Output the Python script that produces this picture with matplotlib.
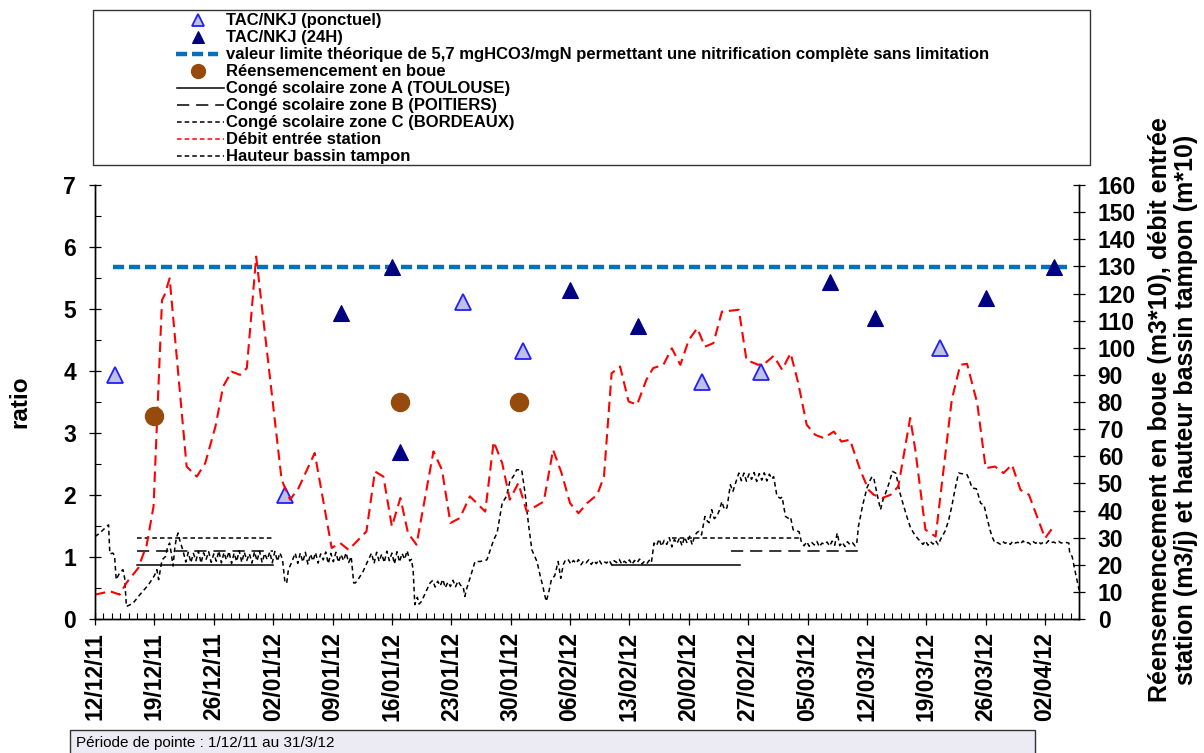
import numpy as np
import matplotlib
matplotlib.use('Agg')
import matplotlib.pyplot as plt
from matplotlib.lines import Line2D
from matplotlib.patches import Rectangle

plt.rcParams['font.family'] = ['Liberation Sans', 'DejaVu Sans']

W, H = 1204, 753

# ---------------- data (x = days since 12/12/2011) ----------------
date_ticks = [0, 7, 14, 21, 28, 35, 42, 49, 56, 63, 70, 77, 84, 91, 98, 105, 112]
date_labels = ['12/12/11', '19/12/11', '26/12/11', '02/01/12', '09/01/12', '16/01/12',
               '23/01/12', '30/01/12', '06/02/12', '13/02/12', '20/02/12', '27/02/12',
               '05/03/12', '12/03/12', '19/03/12', '26/03/12', '02/04/12']

ponctuel_days = [2.4, 22.4, 43.4, 50.4, 71.5, 78.5, 99.6]
ponctuel_vals = [3.93, 2.00, 5.12, 4.32, 3.82, 3.99, 4.37]

h24_days = [29, 35, 36, 56, 64, 86.6, 92, 105, 113]
h24_vals = [4.93, 5.67, 2.70, 5.31, 4.73, 5.44, 4.86, 5.18, 5.68]

limit_days = [2.1, 114.6]
limit_vals = [5.68, 5.68]

reens_days = [6.9, 36, 50]
reens_vals = [75, 80, 80]

conge_A_days = [[4.9, 21.0], [61, 76]]
conge_A_val = 20
conge_B_days = [[4.9, 21.0], [75, 90.2]]
conge_B_val = 25
conge_C_days = [[4.9, 21.0], [68, 83.1]]
conge_C_val = 30

debit_days = [0, 1.8, 2.9, 3.7, 5.1, 6.1, 6.9, 7.9, 8.2, 8.8, 10.8, 12, 13, 14.2, 15.1, 16.1,
              17.1, 17.9, 19.0, 22, 23, 24, 25.9, 27.9, 28.9, 29.9, 32, 33, 34, 35, 36, 36.9,
              37.9, 39.9, 40.9, 41.9, 43, 44.2, 46, 47, 48, 48.9, 49.9, 50.9, 52.9, 54, 55,
              56, 57, 58, 59.2, 60, 60.9, 61.9, 62.9, 63.9, 65, 65.8, 67, 68, 69, 70, 71,
              71.9, 72.9, 73.9, 75.9, 76.8, 78.2, 79, 80, 81, 82, 82.9, 83.9, 84.9, 85.9,
              87.1, 88, 89, 90.2, 91.2, 91.8, 92.8, 93.8, 94.7, 96.1, 96.7, 97.9, 99.1, 101,
              102, 102.8, 104, 105, 106.1, 107.1, 108.1, 109.1, 110.1, 112, 113]
debit_vals = [9, 10.2, 9, 13.3, 18.8, 27.4, 41.5, 117.6, 119.5, 125.6, 56.2, 52.5, 57.5, 71,
              85.7, 91.2, 90, 92.5, 133.6, 51.3, 44, 48.3, 61.2, 26.2, 28, 25.5, 32.3, 54.4,
              52.5, 34.1, 44.6, 31.7, 27.4, 61.8, 55, 35.4, 37.2, 45.2, 39.6, 65.4, 57.5, 44,
              50.1, 39.6, 43.3, 62.4, 53.8, 42.7, 39, 42.7, 45.8, 52.5, 90.6, 93.1, 80.2, 79,
              88.2, 92.5, 93.7, 99.8, 93.7, 102.9, 107.2, 100.4, 101.7, 113.3, 114, 95.5,
              93.7, 94.3, 97, 91.9, 98, 87, 71.6, 67.9, 66.7, 69.1, 65.4, 66.1, 55, 47.6,
              45.8, 44.6, 45.8, 48.9, 74.1, 62.4, 32.9, 30.4, 80.8, 93.7, 94.1, 79.6, 55.6,
              56.2, 53.8, 56.9, 47.6, 45.8, 29.8, 34.1]

# Hauteur bassin tampon: shape points (day, value)
hauteur_points = [
    (0, 30.4), (0.5, 31.5), (1.0, 33), (1.6, 34.7), (1.75, 24), (2.1, 24.3), (2.3, 23.5),
    (2.5, 14.5), (2.9, 17), (3.3, 18.2), (3.5, 15), (3.7, 4.6), (4.1, 5.2), (4.5, 5.9),
    (5.3, 9), (6.3, 12.6), (7.0, 16), (7.3, 18.2), (7.5, 14.5), (7.9, 21.8), (8.3, 23),
    (8.6, 27), (8.8, 28), (9.0, 24), (9.2, 19.5), (9.4, 26), (9.6, 30), (9.8, 31.7),
    (10.0, 29), (10.2, 27), (10.4, 24.9),
    (22.4, 13.3), (22.6, 13.3), (22.8, 18.2), (23.2, 21), (23.6, 24.3),
    (30.2, 23), (30.5, 13.3), (30.7, 13.3), (31.1, 15), (31.6, 17.5), (32.1, 21), (32.6, 24.3),
    (37.3, 22), (37.5, 18.2), (37.7, 5.3), (38.0, 8), (38.2, 5.5), (38.5, 6.5), (39.0, 10),
    (39.5, 13.3),
    (43.4, 12), (43.6, 8.3), (43.8, 11), (44.3, 16), (44.8, 21.2), (45.4, 21.2), (46.2, 21.8),
    (47.0, 29.2), (47.4, 31.7), (48.0, 42.7), (48.5, 45.2), (48.9, 50.7), (49.4, 53),
    (49.7, 55), (50.3, 55), (50.7, 46.4), (51.1, 35), (51.5, 25.5), (52.1, 21.2),
    (52.5, 15.7), (52.8, 12), (53.0, 9), (53.2, 6.5), (53.5, 10), (53.8, 14.5), (54.2, 16),
    (54.6, 21.2), (54.8, 17), (54.9, 15), (55.2, 20), (55.5, 22), (55.8, 21.8),
    (65.6, 21), (65.9, 28),
    (71.0, 32), (71.2, 32.3), (71.5, 31), (71.9, 37.8), (72.2, 36), (72.4, 35.5), (72.7, 40.3),
    (73.0, 37), (73.3, 37.8), (73.6, 40), (73.9, 43.3), (74.2, 40.3), (74.5, 41), (74.9, 49.5),
    (75.2, 47), (75.5, 50), (75.9, 53.8),
    (80.0, 52.5), (80.4, 45.2), (80.8, 44.5), (81.0, 45), (81.4, 37.8), (81.8, 37), (82.0, 37.5),
    (82.3, 32.9), (82.7, 32.5), (83.0, 32.2), (83.3, 28),
    (89.8, 28), (90.0, 34.1), (90.5, 42), (91.0, 48.3), (91.4, 51.3), (91.6, 52.5), (91.8, 52),
    (92.2, 46), (92.6, 40.3), (92.9, 44), (93.2, 46.4), (93.6, 50), (94.0, 54.4), (94.4, 53.8),
    (94.6, 51), (94.9, 46.4), (95.3, 42), (95.7, 37.8), (96.1, 34), (96.5, 31.7), (96.9, 30),
    (97.3, 28.6),
    (99.7, 29.5), (100.2, 32.3), (100.6, 36), (101.0, 41.5), (101.4, 48), (101.8, 53.8),
    (102.3, 53.5), (102.8, 53.2), (103.1, 51), (103.4, 48.3), (103.9, 48), (104.1, 46),
    (104.4, 42.7), (104.8, 42), (105.1, 38), (105.5, 32.9), (105.8, 30), (106.1, 28),
    (114.8, 28), (114.9, 24.3), (115.2, 23), (115.5, 18.2), (116.0, 10.8),
]
# Hauteur bassin tampon: noisy plateaus (start day, step, values)
hauteur_plateaus = [
    (10.7, 0.3, [21.0, 24.6, 20.8, 24.2, 21.5, 25.0, 20.6, 24.4, 22.0, 24.8, 20.9, 24.0, 21.3,
                 25.1, 20.7, 24.5, 21.8, 24.9, 20.5, 24.3, 21.2, 25.2, 20.9, 24.6, 21.6, 24.1,
                 20.6, 24.8, 21.4, 25.0, 20.8, 24.2, 21.9, 24.7, 20.7, 24.9, 21.3, 24.4, 22.0]),
    (23.9, 0.3, [20.5, 24.3, 21.0, 24.6, 20.2, 23.9, 21.4, 24.5, 20.6, 24.0, 21.8, 24.7, 20.4,
                 24.2, 21.1, 24.6, 20.9, 23.8, 21.5, 24.4, 20.8]),
    (32.9, 0.3, [20.5, 24.6, 21.2, 24.0, 20.8, 25.0, 21.5, 24.3, 20.3, 24.8, 21.0, 24.2, 22.0,
                 25.2, 21.4]),
    (39.8, 0.3, [14.2, 11.8, 13.9, 12.2, 14.6, 11.5, 13.6, 12.0, 14.3, 11.9, 14.0, 12.4]),
    (56.1, 0.3, [20.2, 21.6, 20.5, 21.9, 20.0, 21.4, 20.7, 21.8, 20.1, 21.5, 20.4, 21.9, 20.3,
                 21.2, 20.6, 21.7, 20.0, 21.5, 20.8, 22.0, 20.2, 21.3, 20.5, 21.8, 20.1, 21.6,
                 20.7, 22.1, 20.3, 21.4, 20.6, 21.9]),
    (66.2, 0.3, [27.0, 29.5, 26.8, 29.0, 27.5, 30.0, 26.6, 29.3, 27.8, 29.8, 27.0, 30.2, 28.0,
                 30.5, 27.4, 30.8]),
    (76.2, 0.3, [51.0, 53.8, 50.8, 53.5, 51.5, 54.0, 50.7, 53.6, 51.2, 53.9, 50.9, 53.4, 51.6]),
    (83.6, 0.3, [27.0, 28.5, 26.8, 28.2, 27.3, 28.6, 26.6, 28.0, 27.5, 28.4, 26.9, 28.7, 27.2,
                 31.7, 27.0, 28.3, 26.7, 28.5, 27.4, 28.1, 26.9]),
    (97.6, 0.3, [27.5, 28.8, 27.2, 28.5, 27.6, 28.9, 27.4]),
    (106.4, 0.3, [28.2, 27.6, 28.6, 27.9, 28.4, 27.5, 28.7, 28.0, 28.3, 27.6, 28.8, 27.8, 28.2,
                  27.5, 28.5, 27.9, 28.6, 27.7, 28.3, 27.8, 28.9, 28.1, 28.4, 27.9, 28.6, 28.0,
                  28.3, 28.2]),
]

legend_labels = ['TAC/NKJ (ponctuel)', 'TAC/NKJ (24H)',
                 'valeur limite théorique de 5,7 mgHCO3/mgN permettant une nitrification complète sans limitation',
                 'Réensemencement en boue', 'Congé scolaire zone A (TOULOUSE)',
                 'Congé scolaire zone B (POITIERS)', 'Congé scolaire zone C (BORDEAUX)',
                 'Débit entrée station', 'Hauteur bassin tampon']

# ---------------- build hauteur series ----------------
pts = list(hauteur_points)
for start, step, vals in hauteur_plateaus:
    for i, v in enumerate(vals):
        pts.append((start + i * step, v))
pts.sort(key=lambda p: p[0])
hb_days = [p[0] for p in pts]
hb_vals = [p[1] for p in pts]

# ---------------- styles ----------------
C_RED = '#FF0000'
C_BLUE = '#0070C0'
C_NAVY = '#000080'
C_BROWN = '#964B0C'
C_LAV = '#C0C0E6'
C_PBLUE = '#2020FF'

sty_ponct = dict(linestyle='none', marker='^', markersize=11, markerfacecolor=C_LAV,
                 markeredgecolor=C_PBLUE, markeredgewidth=1.3)
sty_24h = dict(linestyle='none', marker='^', markersize=12, markerfacecolor=C_NAVY,
               markeredgecolor=C_NAVY, markeredgewidth=0.8)
sty_limit = dict(color=C_BLUE, linewidth=3.2, dashes=(2.5, 1.1), dash_capstyle='butt')
sty_reens = dict(linestyle='none', marker='o', markersize=13, markerfacecolor=C_BROWN,
                 markeredgecolor=C_BROWN)
sty_A = dict(color='black', linewidth=1.1, linestyle='-')
sty_B = dict(color='black', linewidth=1.1, dashes=(8, 4.5))
sty_C = dict(color='black', linewidth=1.1, dashes=(3, 2))
sty_red = dict(color=C_RED, linewidth=1.5, dashes=(5, 2.8))
sty_black = dict(color='black', linewidth=1.1, dashes=(3, 2.2))

# ---------------- figure ----------------
fig = plt.figure(figsize=(W / 100, H / 100), dpi=100)
L, R, T, B = 95, 1079, 185, 619
ax = fig.add_axes([L / W, 1 - B / H, (R - L) / W, (B - T) / H])
ax2 = ax.twinx()

# left axis: ratios
ax.plot(limit_days, limit_vals, **sty_limit, zorder=3)
ax.plot(ponctuel_days, ponctuel_vals, **sty_ponct, zorder=4)
ax.plot(h24_days, h24_vals, **sty_24h, zorder=4)

# right axis
for seg in conge_A_days:
    ax2.plot(seg, [conge_A_val, conge_A_val], **sty_A)
for seg in conge_B_days:
    ax2.plot(seg, [conge_B_val, conge_B_val], **sty_B)
for seg in conge_C_days:
    ax2.plot(seg, [conge_C_val, conge_C_val], **sty_C)
ax2.plot(hb_days, hb_vals, **sty_black)
ax2.plot(debit_days, debit_vals, **sty_red)
ax2.plot(reens_days, reens_vals, **sty_reens, zorder=5)

ax.set_xlim(0, 116)
ax.set_ylim(0, 7)
ax2.set_ylim(0, 160)

for a in (ax, ax2):
    a.spines['top'].set_visible(False)
    for s in a.spines.values():
        s.set_linewidth(1.0)

ax.set_xticks(date_ticks)
ax.set_xticklabels(date_labels, rotation=90, fontsize=16.5, fontweight='bold')
ax.set_xticks(np.arange(0, 117, 1), minor=True)
ax.set_yticks(range(0, 8))
ax.set_yticklabels([str(v) for v in range(0, 8)], fontsize=16.5, fontweight='bold')
ax.set_yticks(np.arange(0.5, 7, 1), minor=True)
ax.tick_params(axis='x', which='major', direction='inout', length=9, width=0.9, pad=5)
ax.tick_params(axis='x', which='minor', direction='in', length=4.5, width=0.8)
ax.tick_params(axis='y', which='major', direction='inout', length=9, width=0.9, pad=9)
ax.tick_params(axis='y', which='minor', direction='in', length=4, width=0.8)

ax2.set_yticks(range(0, 161, 10))
ax2.set_yticklabels([str(v) for v in range(0, 161, 10)], fontsize=16.5, fontweight='bold')
ax2.tick_params(axis='y', which='major', direction='inout', length=9, width=0.9, pad=9)

# axis titles
fig.text(20 / W, 1 - 402 / H, 'ratio', rotation=90, ha='center', va='center',
         fontsize=17.5, fontweight='bold')
fig.text(1173 / W, 1 - 410 / H,
         'Réensemencement en boue (m3*10), débit entrée\nstation (m3/j) et hauteur bassin tampon (m*10)',
         rotation=90, ha='center', va='center', multialignment='center',
         fontsize=18, fontweight='bold', linespacing=1.12)

# ---------------- legend (drawn in figure pixels) ----------------
def fx(x):
    return x / W

def fy(y):
    return 1 - y / H

fig.add_artist(Rectangle((fx(93), fy(165)), (1090 - 93) / W, (165 - 10) / H,
                         transform=fig.transFigure, facecolor='white', edgecolor='#333333',
                         linewidth=1.0, zorder=0))
row0, drow = 20.0, 17.06
legend_styles = [('m', sty_ponct, 9), ('m', sty_24h, 9), ('l', sty_limit, None),
                 ('m', sty_reens, 10), ('l', sty_A, None), ('l', sty_B, None),
                 ('l', sty_C, None), ('l', dict(sty_C, color=C_RED), None),
                 ('l', sty_C, None)]
for i, (lab, (kind, sty, ms)) in enumerate(zip(legend_labels, legend_styles)):
    y = row0 + drow * i
    if kind == 'm':
        s = dict(sty)
        s['markersize'] = ms
        fig.add_artist(Line2D([fx(198)], [fy(y)], transform=fig.transFigure, **s))
    else:
        x0 = 176 if i == 2 else 177
        x1 = 218 if i == 2 else 224
        fig.add_artist(Line2D([fx(x0), fx(x1)], [fy(y), fy(y)], transform=fig.transFigure, **sty))
    fig.text(fx(226), fy(y), lab, ha='left', va='center', fontsize=12, fontweight='bold')

# bottom note box
fig.add_artist(Rectangle((fx(70), fy(765)), (1035 - 70) / W, (765 - 730) / H,
                         transform=fig.transFigure, facecolor='#ECEAF2', edgecolor='#333333',
                         linewidth=1.0, zorder=0))
fig.text(fx(76), fy(743), 'Période de pointe : 1/12/11 au 31/3/12', ha='left', va='center',
         fontsize=11)

fig.savefig('out.png', dpi=100)
